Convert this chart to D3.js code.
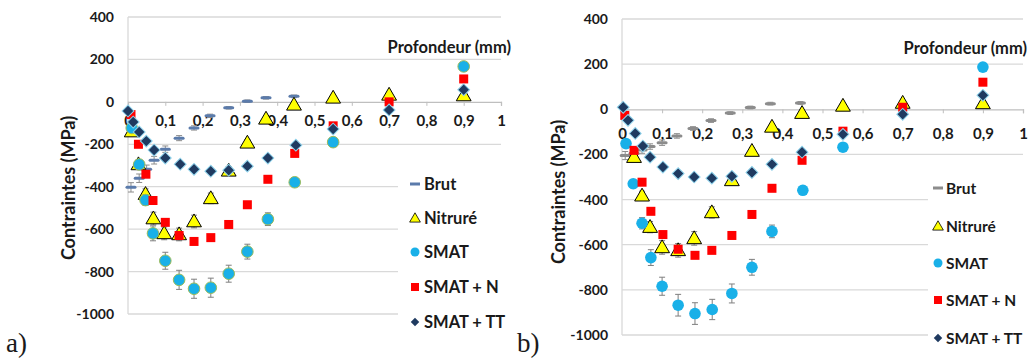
<!DOCTYPE html>
<html><head><meta charset="utf-8">
<script src="https://cdn.jsdelivr.net/npm/d3@7"></script>
<style>
body{margin:0;background:#fff;}
svg{display:block;}
text{font-family:Lato,"Open Sans",sans-serif;font-weight:bold;fill:#1a1a1a;}
</style></head>
<body><svg id="c" width="1028" height="358"></svg>
<script>
// ---- shared axis data ----
const xTicks = [0,0.1,0.2,0.3,0.4,0.5,0.6,0.7,0.8,0.9,1];
const xTickLabels = ["0","0,1","0,2","0,3","0,4","0,5","0,6","0,7","0,8","0,9","1"];
const yTicks = [400,200,0,-200,-400,-600,-800,-1000];
const yTickLabels = ["400","200","0","-200","-400","-600","-800","-1000"];
const seriesNames = ["Brut","Nitruré","SMAT","SMAT + N","SMAT + TT"];

// ---- panel a) ----
const aBrutX = [0.008,0.03,0.05,0.07,0.1,0.137,0.177,0.22,0.27,0.32,0.37,0.445];
const aBrutY = [-403,-360,-318,-275,-223,-171,-123,-66,-28,3,19,26];
const aBrutErr = [22,20,20,18,15,12,10,8,6,6,6,6];
const aNitX = [0.01,0.028,0.047,0.068,0.097,0.137,0.177,0.222,0.27,0.32,0.37,0.445,0.55,0.7,0.9];
const aNitY = [-140,-295,-435,-550,-620,-625,-564,-455,-325,-193,-80,-14,19,33,30];
const aNitErr = [15,20,25,30,30,30,30,25,20,15,10,10,10,10,10];
const aSmatX = [0.01,0.03,0.047,0.067,0.1,0.137,0.177,0.222,0.27,0.32,0.375,0.447,0.55,0.9];
const aSmatY = [-123,-295,-463,-620,-749,-839,-881,-876,-810,-706,-553,-379,-190,167];
const aSmatErr = [15,20,25,35,40,45,45,45,40,35,30,20,12,8];
const aSnX = [0.008,0.028,0.048,0.067,0.1,0.137,0.177,0.222,0.27,0.32,0.375,0.447,0.55,0.7,0.9];
const aSnY = [-60,-200,-341,-465,-568,-630,-658,-640,-578,-485,-365,-243,-113,0,108];
const aTtX = [0.0,0.014,0.03,0.049,0.07,0.1,0.14,0.177,0.222,0.27,0.32,0.375,0.45,0.55,0.7,0.9];
const aTtY = [-43,-95,-142,-185,-227,-265,-294,-318,-327,-322,-303,-265,-204,-128,-38,57];

// ---- panel b) ----
const bBrutX = [0.008,0.03,0.05,0.07,0.1,0.137,0.177,0.222,0.27,0.32,0.37,0.445];
const bBrutY = [-205,-195,-180,-165,-148,-118,-85,-50,-17,8,25,28];
const bBrutErr = [18,15,15,12,12,10,8,8,6,6,6,6];
const bNitX = [0.03,0.05,0.07,0.1,0.14,0.18,0.224,0.274,0.324,0.374,0.449,0.551,0.7,0.9];
const bNitY = [-212,-383,-522,-612,-625,-572,-457,-315,-185,-78,-17,15,28,26];
const bNitErr = [15,20,25,30,30,30,25,20,15,10,10,10,10,10];
const bSmatX = [0.01,0.028,0.05,0.072,0.1,0.14,0.182,0.225,0.274,0.324,0.374,0.451,0.551,0.9];
const bSmatY = [-152,-330,-505,-657,-784,-868,-905,-887,-816,-700,-541,-359,-168,187];
const bSmatErr = [12,18,25,35,40,48,48,45,42,35,28,18,10,8];
const bSnX = [0.007,0.03,0.05,0.072,0.102,0.14,0.182,0.224,0.274,0.324,0.374,0.449,0.551,0.7,0.9];
const bSnY = [-27,-182,-323,-452,-555,-620,-647,-625,-559,-466,-350,-226,-97,9,120];
const bTtX = [0.003,0.015,0.033,0.052,0.07,0.102,0.14,0.18,0.224,0.274,0.324,0.374,0.449,0.551,0.7,0.9];
const bTtY = [9,-49,-107,-163,-212,-256,-285,-300,-305,-297,-280,-244,-190,-111,-22,62];

const zip = (xs, ys, es) => xs.map((x,i)=>({x, y: ys[i], e: es ? es[i] : 0}));

const svg = d3.select("#c");

function panel(cfg){
  const g = svg.append("g");
  const x = d3.scaleLinear().domain([0,1]).range([cfg.x0, cfg.x1]);
  const y = d3.scaleLinear().domain([400,-1000]).range([cfg.y0, cfg.y1]);

  // gridlines
  g.append("g").selectAll("line").data(yTicks.filter(v=>v!==0)).join("line")
    .attr("x1", x(0)).attr("x2", x(1))
    .attr("y1", d=>y(d)).attr("y2", d=>y(d))
    .attr("stroke", "#d9d9d9").attr("stroke-width", 1.3);
  // vertical axis line
  g.append("line").attr("x1", x(0)).attr("x2", x(0)).attr("y1", y(400)).attr("y2", y(-1000))
    .attr("stroke", "#d9d9d9").attr("stroke-width", 1.3);

  // y axis labels
  const yAxis = d3.axisLeft(y).tickValues(yTicks).tickFormat((d,i)=>yTickLabels[i]).tickSize(0).tickPadding(cfg.yPad);
  const ya = g.append("g").attr("transform", `translate(${x(0)},0)`).call(yAxis);
  ya.select(".domain").remove();
  ya.selectAll("text").style("font-family","Lato").style("font-weight","bold").style("font-size","14px").attr("fill","#1a1a1a");

  // x axis at y=0
  const xAxis = d3.axisBottom(x).tickValues(xTicks).tickFormat((d,i)=>xTickLabels[i]).tickSize(4).tickPadding(cfg.xPad);
  const xa = g.append("g").attr("transform", `translate(0,${y(0)})`).call(xAxis);
  xa.select(".domain").attr("stroke","#bfbfbf").attr("stroke-width",1.3);
  xa.selectAll(".tick line").attr("stroke","#bfbfbf");
  xa.selectAll("text").style("font-family","Lato").style("font-weight","bold").style("font-size","15px").attr("fill","#1a1a1a");

  // axis titles
  g.append("text").attr("transform", `translate(${cfg.ytx},${cfg.yty}) rotate(-90)`)
    .attr("text-anchor","middle").attr("dominant-baseline","central")
    .style("font-size","18px").text("Contraintes (MPa)");
  g.append("text").attr("x", cfg.ptx).attr("y", cfg.pty).attr("text-anchor","end")
    .attr("dominant-baseline","central").style("font-size","16.5px").text("Profondeur (mm)");

  // legend box (covers gridlines)
  g.append("rect").attr("x", cfg.lbx).attr("y", cfg.lby).attr("width", 140).attr("height", 200).attr("fill","#fff");

  const plot = g.append("g");
  const errBars = (data, color) => {
    const eg = plot.append("g").attr("stroke", color).attr("stroke-width", 1);
    data.filter(d=>d.e>0).forEach(d=>{
      eg.append("line").attr("x1",x(d.x)).attr("x2",x(d.x)).attr("y1",y(d.y+d.e)).attr("y2",y(d.y-d.e));
      eg.append("line").attr("x1",x(d.x)-3).attr("x2",x(d.x)+3).attr("y1",y(d.y+d.e)).attr("y2",y(d.y+d.e));
      eg.append("line").attr("x1",x(d.x)-3).attr("x2",x(d.x)+3).attr("y1",y(d.y-d.e)).attr("y2",y(d.y-d.e));
    });
  };

  const brut = zip(cfg.brut[0], cfg.brut[1], cfg.brut[2]);
  const nit = zip(cfg.nit[0], cfg.nit[1], cfg.nit[2]);
  const smat = zip(cfg.smat[0], cfg.smat[1], cfg.smat[2]);
  const sn = zip(cfg.sn[0], cfg.sn[1]);
  const tt = zip(cfg.tt[0], cfg.tt[1]);

  // Brut
  errBars(brut, "#8c8c8c");
  plot.append("g").selectAll("rect").data(brut).join("rect")
    .attr("x", d=>x(d.x)-5.5).attr("y", d=>y(d.y)-1.5).attr("width", 11).attr("height", 3).attr("rx",1.5)
    .attr("fill", cfg.brutColor);
  // Nitruré
  errBars(nit, "#7f7f7f");
  const tri = d3.symbol().type(d3.symbolTriangle).size(95);
  plot.append("g").selectAll("path").data(nit).join("path")
    .attr("d", tri).attr("transform", d=>`translate(${x(d.x)},${y(d.y)+1})`)
    .attr("fill","#ffff00").attr("stroke","#000").attr("stroke-width",1);
  // SMAT
  errBars(smat, "#7f7f7f");
  plot.append("g").selectAll("circle").data(smat).join("circle")
    .attr("cx", d=>x(d.x)).attr("cy", d=>y(d.y)).attr("r", 5.8)
    .attr("fill","#19b0e8").attr("stroke", cfg.smatStroke).attr("stroke-width",1);
  // SMAT + N
  plot.append("g").selectAll("rect").data(sn).join("rect")
    .attr("x", d=>x(d.x)-4.5).attr("y", d=>y(d.y)-4.5).attr("width", 9).attr("height", 9)
    .attr("fill","#ff0000");
  // SMAT + TT
  plot.append("g").selectAll("path").data(tt).join("path")
    .attr("d", d3.symbol().type(d3.symbolSquare).size(70)).attr("transform", d=>`translate(${x(d.x)},${y(d.y)}) rotate(45)`)
    .attr("fill","#1f3a60").attr("stroke","#8fd3ec").attr("stroke-width",1);

  // legend
  const lg = g.append("g");
  seriesNames.forEach((name,i)=>{
    const ly = cfg.legY[i], mx = cfg.legMX;
    if(i===0) lg.append("rect").attr("x",mx-5).attr("y",ly-1.5).attr("width",10).attr("height",3).attr("fill",cfg.brutColor);
    if(i===1) lg.append("path").attr("d", d3.symbol().type(d3.symbolTriangle).size(50)).attr("transform",`translate(${mx},${ly+1})`).attr("fill","#ffff00").attr("stroke","#000").attr("stroke-width",0.8);
    if(i===2) lg.append("circle").attr("cx",mx).attr("cy",ly).attr("r",4.5).attr("fill","#19b0e8");
    if(i===3) lg.append("rect").attr("x",mx-4).attr("y",ly-4).attr("width",8).attr("height",8).attr("fill","#ff0000");
    if(i===4) lg.append("path").attr("d", d3.symbol().type(d3.symbolSquare).size(36)).attr("transform",`translate(${mx},${ly}) rotate(45)`).attr("fill","#1f3a60");
    lg.append("text").attr("x", cfg.legTX).attr("y", ly).attr("dominant-baseline","central")
      .style("font-size", cfg.legFS).text(name);
  });

  // panel label
  g.append("text").attr("x", cfg.labX).attr("y", cfg.labY)
    .style("font-family","'Liberation Serif','Times New Roman',serif").style("font-weight","normal").style("font-size","27px")
    .text(cfg.label);
}

panel({
  x0:128, x1:501, y0:17, y1:314, yPad:14, xPad:10,
  ytx:68, yty:188, ptx:511, pty:47,
  lbx:398, lby:165, legY:[184,218,252,287,322], legMX:415, legTX:424, legFS:"16.5px",
  labX:6, labY:352, label:"a)",
  brutColor:"#5b7bab", smatStroke:"#9bbb59",
  brut:[aBrutX,aBrutY,aBrutErr], nit:[aNitX,aNitY,aNitErr], smat:[aSmatX,aSmatY,aSmatErr],
  sn:[aSnX,aSnY], tt:[aTtX,aTtY]
});
panel({
  x0:622, x1:1023, y0:19, y1:335, yPad:14, xPad:15,
  ytx:558, yty:192, ptx:1027, pty:48,
  lbx:928, lby:170, legY:[188,226,263,300,338], legMX:938, legTX:946, legFS:"15.5px",
  labX:517, labY:352, label:"b)",
  brutColor:"#8c8c8c", smatStroke:"none",
  brut:[bBrutX,bBrutY,bBrutErr], nit:[bNitX,bNitY,bNitErr], smat:[bSmatX,bSmatY,bSmatErr],
  sn:[bSnX,bSnY], tt:[bTtX,bTtY]
});
</script></body></html>
